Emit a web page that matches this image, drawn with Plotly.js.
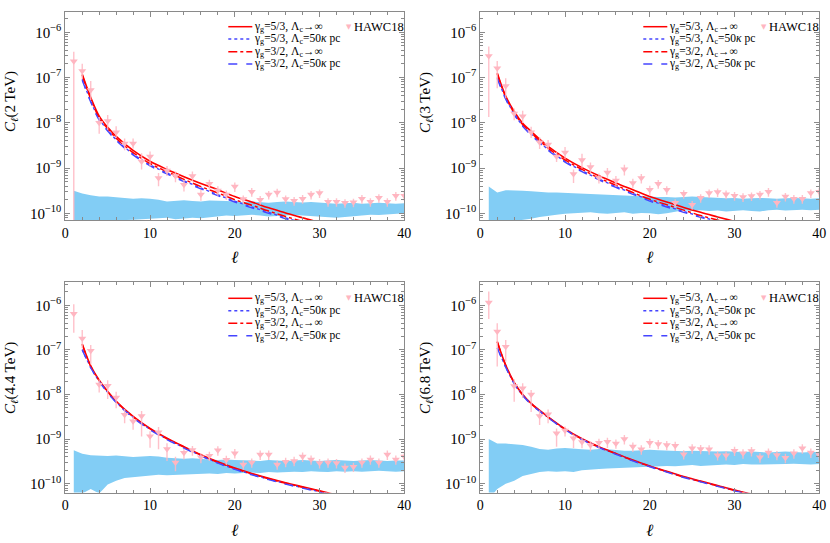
<!DOCTYPE html>
<html><head><meta charset="utf-8">
<script src="https://cdn.plot.ly/plotly-3.0.1.min.js"></script>
<style>html,body{margin:0;padding:0;background:#fff}#chart{width:830px;height:543px}</style>
</head><body><div id="chart"></div>
<script>
// ---------------- data ----------------
const ell = [1,2,3,4,5,6,7,8,9,10,11,12,13,14,15,16,17,18,19,20,21,22,23,24,25,26,27,28,29,30,31,32,33,34,35,36,37,38,39,40];
const ellModel = [2,3,4,5,6,8,10,12,14,16,18,20,22,24,26,28,30,32];
const energyLabels = ['2 TeV','3 TeV','4.4 TeV','6.8 TeV'];
const modelNames = ['γ<sub>g</sub>=5/3, Λ<sub>c</sub>→∞','γ<sub>g</sub>=5/3, Λ<sub>c</sub>=50<i>κ</i> pc','γ<sub>g</sub>=3/2, Λ<sub>c</sub>→∞','γ<sub>g</sub>=3/2, Λ<sub>c</sub>=50<i>κ</i> pc'];
const dataName = 'HAWC18';
const xTickVals = [0,10,20,30,40];
const yTickVals = [1e-10,1e-9,1e-8,1e-7,1e-6];
const yTickText = ['10<sup>−10</sup>','10<sup>−9</sup>','10<sup>−8</sup>','10<sup>−7</sup>','10<sup>−6</sup>'];
const yMinorVals = [];
[1e-11,1e-10,1e-9,1e-8,1e-7,1e-6].forEach(d=>{for(let k=2;k<10;k++) yMinorVals.push(k*d);});

// Panel 1 (2 TeV)
const p1Solid53   = [1.175e-7,3.63e-8,1.41e-8,7.94e-9,5.01e-9,2.455e-9,1.41e-9,9.33e-10,6.46e-10,4.57e-10,3.31e-10,2.34e-10,1.78e-10,1.32e-10,1.02e-10,7.94e-11,6.31e-11,5.01e-11];
const p1Dot53     = [9.12e-8,3.02e-8,1.20e-8,6.92e-9,4.27e-9,2.04e-9,1.175e-9,7.76e-10,5.25e-10,3.63e-10,2.57e-10,1.86e-10,1.38e-10,1.05e-10,7.94e-11,6.17e-11,4.79e-11,3.80e-11];
const p1DashDot32 = [1.12e-7,3.39e-8,1.29e-8,7.41e-9,4.57e-9,2.19e-9,1.26e-9,8.32e-10,5.62e-10,3.89e-10,2.82e-10,2.0e-10,1.51e-10,1.12e-10,8.51e-11,6.61e-11,5.25e-11,4.17e-11];
const p1Dash32    = [8.71e-8,2.88e-8,1.15e-8,6.61e-9,4.07e-9,1.95e-9,1.12e-9,7.41e-10,5.01e-10,3.47e-10,2.455e-10,1.78e-10,1.32e-10,1.0e-10,7.59e-11,5.89e-11,4.57e-11,3.63e-11];
const p1BandHigh  = [3.16e-10,2.75e-10,2.51e-10,2.34e-10,2.34e-10,2.29e-10,2.19e-10,2.09e-10,2.14e-10,2.09e-10,2.0e-10,1.82e-10,1.91e-10,1.95e-10,1.86e-10,1.82e-10,1.91e-10,1.91e-10,1.86e-10,1.82e-10,1.78e-10,1.82e-10,1.74e-10,1.70e-10,1.78e-10,1.82e-10,1.78e-10,1.74e-10,1.78e-10,1.74e-10,1.66e-10,1.62e-10,1.66e-10,1.70e-10,1.62e-10,1.66e-10,1.70e-10,1.66e-10,1.62e-10,1.66e-10];
const p1BandLow   = [5.62e-11,6.03e-11,6.31e-11,6.31e-11,6.61e-11,6.92e-11,7.08e-11,7.24e-11,7.41e-11,7.59e-11,7.76e-11,7.94e-11,7.41e-11,7.59e-11,7.94e-11,7.76e-11,8.13e-11,8.51e-11,8.91e-11,8.71e-11,9.12e-11,9.33e-11,8.91e-11,8.51e-11,8.71e-11,8.91e-11,9.12e-11,8.91e-11,8.71e-11,8.51e-11,8.32e-11,7.94e-11,8.32e-11,8.71e-11,9.12e-11,9.33e-11,9.12e-11,9.33e-11,9.77e-11,1.0e-10];
const p1Hawc      = [2.3e-7,1.4e-7,5.3e-8,1.0e-8,1.1e-8,6.2e-9,3.5e-9,3.5e-9,1.4e-9,1.8e-9,6.0e-10,8.8e-10,6.7e-10,4.3e-10,6.7e-10,2.6e-10,4.5e-10,3.2e-10,2.6e-10,3.9e-10,2.06e-10,3.0e-10,2.0e-10,2.6e-10,2.9e-10,2.06e-10,1.9e-10,2.1e-10,2.6e-10,2.8e-10,1.8e-10,1.8e-10,1.7e-10,1.75e-10,2.1e-10,1.8e-10,2.2e-10,1.8e-10,2.45e-10,2.45e-10];
const p1ErrUpDex  = [0.21,0.16,0.2,0.13,0.13,0.13,0.11,0.11,0.18,0.11,0.11,0.1,0.1,0.1,0.1,0.1,0.09,0.09,0.09,0.09,0.08,0.08,0.08,0.08,0.08,0.08,0.08,0.08,0.08,0.08,0.08,0.08,0.08,0.08,0.08,0.08,0.08,0.08,0.08,0.08];
const p1ErrDnDex  = [4,0.17,0.22,0.24,0.2,0.13,0.15,0.11,0.18,0.22,0.18,0.12,0.14,0.15,0.12,0.14,0.12,0.12,0.12,0.12,0.11,0.11,0.11,0.11,0.11,0.11,0.11,0.11,0.11,0.11,0.11,0.11,0.11,0.11,0.11,0.11,0.11,0.11,0.11,0.11];

// Panel 2 (3 TeV)
const p2Solid53   = [1.26e-7,3.89e-8,1.78e-8,9.77e-9,6.46e-9,3.02e-9,1.66e-9,1.02e-9,6.76e-10,4.68e-10,3.31e-10,2.34e-10,1.78e-10,1.35e-10,1.05e-10,8.32e-11,6.61e-11,5.25e-11];
const p2Dot53     = [1.0e-7,3.47e-8,1.585e-8,8.71e-9,5.62e-9,2.57e-9,1.41e-9,8.71e-10,5.75e-10,3.89e-10,2.75e-10,1.95e-10,1.445e-10,1.10e-10,8.51e-11,6.61e-11,5.25e-11,4.17e-11];
const p2DashDot32 = [1.20e-7,3.72e-8,1.66e-8,9.12e-9,6.03e-9,2.75e-9,1.51e-9,9.33e-10,6.03e-10,4.17e-10,2.88e-10,2.04e-10,1.55e-10,1.175e-10,8.91e-11,7.08e-11,5.62e-11,4.47e-11];
const p2Dash32    = [9.55e-8,3.31e-8,1.51e-8,8.32e-9,5.37e-9,2.455e-9,1.35e-9,8.32e-10,5.50e-10,3.72e-10,2.63e-10,1.86e-10,1.38e-10,1.05e-10,8.13e-11,6.31e-11,5.01e-11,3.98e-11];
const p2BandHigh  = [3.89e-10,2.88e-10,3.24e-10,3.24e-10,3.16e-10,3.09e-10,2.95e-10,2.88e-10,2.88e-10,2.82e-10,2.75e-10,2.69e-10,2.69e-10,2.63e-10,2.57e-10,2.51e-10,2.51e-10,2.45e-10,2.40e-10,2.34e-10,2.29e-10,2.29e-10,2.24e-10,2.29e-10,2.34e-10,2.29e-10,2.24e-10,2.19e-10,2.14e-10,2.19e-10,2.09e-10,2.14e-10,2.19e-10,2.14e-10,2.09e-10,2.14e-10,2.19e-10,2.14e-10,2.09e-10,2.14e-10];
const p2BandLow   = [5.01e-11,5.62e-11,6.31e-11,6.76e-11,7.08e-11,7.59e-11,8.32e-11,8.91e-11,9.33e-11,9.77e-11,1.0e-10,1.02e-10,1.05e-10,1.0e-10,9.77e-11,1.02e-10,1.05e-10,9.77e-11,1.02e-10,1.0e-10,9.55e-11,1.0e-10,1.07e-10,1.17e-10,1.12e-10,1.17e-10,1.12e-10,1.15e-10,1.10e-10,1.15e-10,1.17e-10,1.12e-10,1.10e-10,1.17e-10,1.20e-10,1.15e-10,1.17e-10,1.20e-10,1.17e-10,1.20e-10];
const p2Hawc      = [3.0e-7,1.6e-7,6.5e-8,1.6e-8,1.4e-8,6.2e-9,3.7e-9,3.3e-9,1.8e-9,2.2e-9,7.4e-10,1.5e-9,1.05e-9,6.0e-10,8.0e-10,5.3e-10,9.4e-10,4.7e-10,6.0e-10,3.3e-10,4.5e-10,3.3e-10,1.7e-10,2.7e-10,1.55e-10,2.2e-10,2.8e-10,2.95e-10,2.65e-10,2.45e-10,2.3e-10,2.4e-10,2.6e-10,3.0e-10,1.7e-10,2.35e-10,2.1e-10,2.1e-10,2.8e-10,3.0e-10];
const p2ErrUpDex  = [0.21,0.16,0.17,0.11,0.12,0.12,0.11,0.1,0.1,0.12,0.1,0.14,0.1,0.1,0.1,0.1,0.1,0.09,0.09,0.09,0.08,0.08,0.08,0.08,0.08,0.08,0.08,0.08,0.08,0.08,0.08,0.08,0.08,0.08,0.08,0.08,0.08,0.08,0.08,0.08];
const p2ErrDnDex  = [1.35,0.44,0.27,0.15,0.15,0.13,0.15,0.12,0.12,0.14,0.2,0.18,0.14,0.12,0.12,0.12,0.14,0.12,0.12,0.13,0.11,0.11,0.11,0.11,0.11,0.11,0.11,0.11,0.11,0.11,0.11,0.11,0.11,0.11,0.11,0.11,0.11,0.11,0.11,0.11];

// Panel 3 (4.4 TeV)
const p3Solid53   = [1.35e-7,4.37e-8,2.09e-8,1.175e-8,7.08e-9,3.24e-9,1.74e-9,1.05e-9,6.76e-10,4.47e-10,3.09e-10,2.24e-10,1.70e-10,1.32e-10,1.05e-10,8.51e-11,6.92e-11,5.62e-11];
const p3Dot53     = [1.02e-7,4.07e-8,2.0e-8,1.12e-8,6.76e-9,3.09e-9,1.66e-9,1.0e-9,6.46e-10,4.27e-10,2.95e-10,2.14e-10,1.62e-10,1.26e-10,1.0e-10,8.13e-11,6.61e-11,5.37e-11];
const p3DashDot32 = [1.32e-7,4.27e-8,2.04e-8,1.15e-8,6.92e-9,3.16e-9,1.70e-9,1.02e-9,6.61e-10,4.37e-10,3.02e-10,2.19e-10,1.66e-10,1.29e-10,1.02e-10,8.32e-11,6.76e-11,5.50e-11];
const p3Dash32    = [1.0e-7,3.98e-8,1.95e-8,1.10e-8,6.61e-9,3.02e-9,1.62e-9,9.77e-10,6.31e-10,4.17e-10,2.88e-10,2.09e-10,1.585e-10,1.23e-10,9.77e-11,7.94e-11,6.46e-11,5.25e-11];
const p3BandHigh  = [5.62e-10,4.68e-10,4.37e-10,4.27e-10,4.17e-10,4.27e-10,4.17e-10,3.98e-10,4.07e-10,4.17e-10,4.07e-10,3.80e-10,3.72e-10,3.63e-10,3.72e-10,3.55e-10,3.47e-10,3.39e-10,3.47e-10,3.39e-10,3.39e-10,3.31e-10,3.24e-10,3.39e-10,3.31e-10,3.24e-10,3.31e-10,3.39e-10,3.31e-10,3.24e-10,3.31e-10,3.39e-10,3.31e-10,3.24e-10,3.31e-10,3.39e-10,3.31e-10,3.24e-10,3.31e-10,3.31e-10];
const p3BandLow   = [5.01e-11,6.03e-11,7.59e-11,6.03e-11,9.55e-11,1.17e-10,1.35e-10,1.41e-10,1.48e-10,1.51e-10,1.58e-10,1.55e-10,1.58e-10,1.62e-10,1.66e-10,1.66e-10,1.70e-10,1.66e-10,1.74e-10,1.70e-10,1.74e-10,1.78e-10,1.74e-10,1.82e-10,1.78e-10,1.82e-10,1.86e-10,1.82e-10,1.91e-10,1.86e-10,1.82e-10,1.91e-10,1.86e-10,1.91e-10,1.86e-10,1.91e-10,1.95e-10,1.91e-10,1.86e-10,1.91e-10];
const p3Hawc      = [6.5e-7,1.8e-7,9.6e-8,1.67e-8,1.58e-8,8.6e-9,3.5e-9,2.5e-9,3.3e-9,1.16e-9,1.42e-9,6.0e-10,3.0e-10,4.95e-10,5.7e-10,3.9e-10,4.25e-10,5.6e-10,3.45e-10,4.85e-10,2.7e-10,3.0e-10,4.5e-10,4.5e-10,2.7e-10,3.1e-10,3.25e-10,4.05e-10,3.5e-10,2.9e-10,3.0e-10,2.9e-10,2.3e-10,2.4e-10,3.0e-10,3.5e-10,3.0e-10,4.5e-10,3.5e-10,4.05e-10];
const p3ErrUpDex  = [0.21,0.19,0.13,0.12,0.12,0.13,0.13,0.11,0.11,0.11,0.12,0.13,0.13,0.09,0.09,0.09,0.09,0.09,0.09,0.09,0.09,0.09,0.09,0.09,0.09,0.09,0.09,0.09,0.09,0.09,0.09,0.09,0.09,0.09,0.09,0.09,0.09,0.09,0.09,0.09];
const p3ErrDnDex  = [0.43,0.21,0.31,0.18,0.3,0.24,0.19,0.19,0.46,0.26,0.38,0.27,0.2,0.15,0.13,0.13,0.12,0.12,0.12,0.12,0.12,0.12,0.12,0.12,0.12,0.12,0.12,0.12,0.12,0.12,0.12,0.12,0.12,0.12,0.12,0.12,0.12,0.12,0.12,0.12];

// Panel 4 (6.8 TeV)
const p4Solid53   = [1.55e-7,4.57e-8,1.86e-8,1.0e-8,6.31e-9,3.16e-9,1.70e-9,1.02e-9,6.76e-10,4.79e-10,3.39e-10,2.51e-10,1.91e-10,1.445e-10,1.15e-10,9.12e-11,7.24e-11,5.89e-11];
const p4Dot53     = [1.12e-7,4.17e-8,1.78e-8,9.77e-9,6.17e-9,3.09e-9,1.66e-9,1.0e-9,6.61e-10,4.68e-10,3.31e-10,2.455e-10,1.86e-10,1.41e-10,1.12e-10,8.91e-11,7.08e-11,5.75e-11];
const p4DashDot32 = [1.51e-7,4.47e-8,1.82e-8,9.77e-9,6.17e-9,3.09e-9,1.66e-9,1.0e-9,6.61e-10,4.68e-10,3.31e-10,2.455e-10,1.86e-10,1.41e-10,1.12e-10,8.91e-11,7.08e-11,5.75e-11];
const p4Dash32    = [1.10e-7,4.07e-8,1.74e-8,9.55e-9,6.03e-9,3.02e-9,1.62e-9,9.77e-10,6.46e-10,4.57e-10,3.24e-10,2.40e-10,1.82e-10,1.38e-10,1.10e-10,8.71e-11,6.92e-11,5.62e-11];
const p4BandHigh  = [1.0e-9,7.94e-10,7.94e-10,7.76e-10,7.41e-10,6.76e-10,6.03e-10,5.75e-10,6.17e-10,6.31e-10,6.03e-10,5.89e-10,5.75e-10,6.03e-10,5.89e-10,5.62e-10,5.50e-10,5.50e-10,5.62e-10,5.75e-10,5.62e-10,5.50e-10,5.37e-10,5.37e-10,5.50e-10,5.37e-10,5.25e-10,5.25e-10,5.37e-10,5.25e-10,5.13e-10,5.25e-10,5.13e-10,5.01e-10,5.13e-10,5.25e-10,5.13e-10,5.01e-10,5.13e-10,5.13e-10];
const p4BandLow   = [4.47e-11,7.59e-11,1.0e-10,1.17e-10,1.48e-10,1.66e-10,1.82e-10,1.91e-10,1.86e-10,1.91e-10,1.82e-10,2.0e-10,2.09e-10,2.14e-10,2.19e-10,2.24e-10,2.29e-10,2.34e-10,2.40e-10,2.40e-10,2.45e-10,2.51e-10,2.45e-10,2.57e-10,2.63e-10,2.51e-10,2.57e-10,2.63e-10,2.69e-10,2.63e-10,2.75e-10,2.69e-10,2.69e-10,2.75e-10,2.69e-10,2.75e-10,2.82e-10,2.75e-10,2.69e-10,2.75e-10];
const p4Hawc      = [1.15e-6,2.57e-7,1.18e-7,1.55e-8,1.38e-8,1.0e-8,3.3e-9,3.6e-9,1.35e-9,1.55e-9,1.05e-9,8.6e-10,7.3e-10,8.3e-10,8.7e-10,8.0e-10,1.0e-9,6.8e-10,5.9e-10,8.3e-10,7.8e-10,7.4e-10,7.1e-10,4.6e-10,6.2e-10,6.0e-10,5.9e-10,4.35e-10,4.35e-10,5.5e-10,4.8e-10,5.4e-10,3.9e-10,5.0e-10,4.4e-10,3.8e-10,4.8e-10,6.2e-10,5.0e-10,4.4e-10];
const p4ErrUpDex  = [0.25,0.19,0.15,0.15,0.11,0.1,0.13,0.11,0.11,0.09,0.08,0.09,0.09,0.09,0.09,0.09,0.09,0.09,0.09,0.09,0.09,0.09,0.09,0.09,0.09,0.09,0.09,0.09,0.09,0.09,0.09,0.09,0.09,0.09,0.09,0.09,0.09,0.09,0.09,0.09];
const p4ErrDnDex  = [0.37,0.78,0.34,0.35,0.22,0.39,0.2,0.2,0.3,0.13,0.22,0.14,0.14,0.14,0.14,0.12,0.12,0.12,0.12,0.12,0.12,0.12,0.12,0.12,0.12,0.12,0.12,0.12,0.12,0.12,0.12,0.12,0.12,0.12,0.12,0.12,0.12,0.12,0.12,0.12];

// ---------------- layout / style ----------------
const FONT = '"Liberation Serif", "Times New Roman", Times, serif';
const RED = '#ff0000', BLUE = '#4545ff', PINK = 'rgb(255,182,193)', BAND = 'rgb(130,205,245)', FRAME = '#8a8a8a';
const curveStyles = [
  {color: RED,  dash: 'solid',   width: 1.6},
  {color: BLUE, dash: 'dot',     width: 1.4},
  {color: RED,  dash: 'dashdot', width: 1.5},
  {color: BLUE, dash: 'dash',    width: 1.4}
];
const panels = [
  {curves:[p1Solid53,p1Dot53,p1DashDot32,p1Dash32], hi:p1BandHigh, lo:p1BandLow, hawc:p1Hawc, up:p1ErrUpDex, dn:p1ErrDnDex},
  {curves:[p2Solid53,p2Dot53,p2DashDot32,p2Dash32], hi:p2BandHigh, lo:p2BandLow, hawc:p2Hawc, up:p2ErrUpDex, dn:p2ErrDnDex},
  {curves:[p3Solid53,p3Dot53,p3DashDot32,p3Dash32], hi:p3BandHigh, lo:p3BandLow, hawc:p3Hawc, up:p3ErrUpDex, dn:p3ErrDnDex},
  {curves:[p4Solid53,p4Dot53,p4DashDot32,p4Dash32], hi:p4BandHigh, lo:p4BandLow, hawc:p4Hawc, up:p4ErrUpDex, dn:p4ErrDnDex}
];
const W = 830, H = 543;
// plot frames in pixels [left, right, top, bottom]
const frames = [[65.3,404.3,11.7,220],[480.3,819.3,11.7,220],[65.3,404.3,281.7,492.5],[480.3,819.3,281.7,492.5]];
const yRanges = [[-10.148,-5.545],[-10.148,-5.545],[-10.197,-5.471],[-10.197,-5.471]];
// y-title centre positions (px) in the figure
const yTitlePos = [[11,102],[426,102],[11,378],[426,378]];

const traces = [];
const layout = {
  width: W, height: H, margin: {l:0,r:0,t:0,b:0},
  paper_bgcolor: '#fff', plot_bgcolor: '#fff', showlegend: false,
  font: {family: FONT, color: '#000'},
  shapes: [], annotations: []
};

panels.forEach((p, i) => {
  const n = i === 0 ? '' : String(i + 1);
  const xa = 'x' + n, ya = 'y' + n;
  const f = frames[i];
  // band
  traces.push({x: ell, y: p.lo, xaxis: xa, yaxis: ya, type: 'scatter', mode: 'lines',
    line: {width: 0, color: BAND}, hoverinfo: 'skip'});
  traces.push({x: ell, y: p.hi, xaxis: xa, yaxis: ya, type: 'scatter', mode: 'lines',
    line: {width: 0, color: BAND}, fill: 'tonexty', fillcolor: BAND, hoverinfo: 'skip'});
  // model curves
  p.curves.forEach((c, k) => {
    traces.push({x: ellModel, y: c, xaxis: xa, yaxis: ya, type: 'scatter', mode: 'lines', name: modelNames[k],
      line: {color: curveStyles[k].color, dash: curveStyles[k].dash, width: curveStyles[k].width, shape: 'spline', smoothing: 1}});
  });
  // HAWC data
  traces.push({x: ell, y: p.hawc, xaxis: xa, yaxis: ya, type: 'scatter', mode: 'markers', name: dataName,
    marker: {symbol: 'triangle-down', size: 7, color: PINK},
    error_y: {type: 'data', symmetric: false,
      array: p.hawc.map((v, j) => v * (Math.pow(10, p.up[j]) - 1)),
      arrayminus: p.hawc.map((v, j) => v * (1 - Math.pow(10, -p.dn[j]))),
      color: 'rgba(255,182,193,0.85)', thickness: 1.4, width: 0}});

  const axCommon = {showline: true, linecolor: FRAME, linewidth: 1, mirror: 'ticks', ticks: 'inside',
    tickcolor: FRAME, ticklen: 5, tickwidth: 1, showgrid: false, zeroline: false};
  layout['xaxis' + n] = Object.assign({}, axCommon, {
    anchor: ya, domain: [f[0]/W, f[1]/W], range: [0, 40], tickmode: 'array', tickvals: xTickVals,
    tickfont: {family: FONT, size: 14, color: '#000'},
    minor: {dtick: 2, ticks: 'inside', ticklen: 3, tickcolor: FRAME, tickwidth: 1},
    title: {text: '<i>ℓ</i>', font: {family: FONT, size: 17, color: '#000'}, standoff: 11}
  });
  layout['yaxis' + n] = Object.assign({}, axCommon, {
    anchor: xa, type: 'log', domain: [1 - f[3]/H, 1 - f[2]/H], range: yRanges[i],
    tickmode: 'array', tickvals: yTickVals, ticktext: yTickText,
    tickfont: {family: FONT, size: 15, color: '#000'},
    minor: {tickmode: 'array', tickvals: yMinorVals, ticks: 'inside', ticklen: 3, tickcolor: FRAME, tickwidth: 1}
  });
  // y-axis title
  layout.annotations.push({xref: 'paper', yref: 'paper', x: yTitlePos[i][0]/W, y: 1 - yTitlePos[i][1]/H,
    xanchor: 'center', yanchor: 'middle', textangle: -90, showarrow: false,
    text: '<i>C</i><sub><i>ℓ</i></sub>(' + energyLabels[i] + ')', font: {family: FONT, size: 15, color: '#000'}});

  // legend (drawn in panel-relative coordinates)
  const ph = f[3] - f[2], pw = f[1] - f[0];
  const rowsPx = i < 2 ? [15, 27.4, 40, 52.4] : [16.6, 29, 41.6, 54];
  const xd = xa + ' domain', yd = ya + ' domain';
  rowsPx.forEach((r, k) => {
    const yy = 1 - r / ph;
    layout.shapes.push({type: 'line', xref: xd, yref: yd, x0: 163/pw, x1: 187/pw, y0: yy, y1: yy,
      line: {color: curveStyles[k].color, dash: curveStyles[k].dash, width: 1.5}});
    layout.annotations.push({xref: xd, yref: yd, x: 187/pw, y: yy, xanchor: 'left', yanchor: 'middle',
      text: modelNames[k], showarrow: false, font: {family: FONT, size: 11.5, color: '#000'}});
  });
  const y0 = 1 - rowsPx[0] / ph;
  layout.annotations.push({xref: xd, yref: yd, x: 283.7/pw, y: y0, xanchor: 'center', yanchor: 'middle',
    text: '▼', showarrow: false, font: {family: 'DejaVu Sans', size: 7, color: PINK}});
  layout.annotations.push({xref: xd, yref: yd, x: 287/pw, y: y0, xanchor: 'left', yanchor: 'middle',
    text: dataName, showarrow: false, font: {family: FONT, size: 12.5, color: '#000'}});
});

Plotly.newPlot('chart', traces, layout, {displayModeBar: false, staticPlot: true});
</script>
</body></html>
